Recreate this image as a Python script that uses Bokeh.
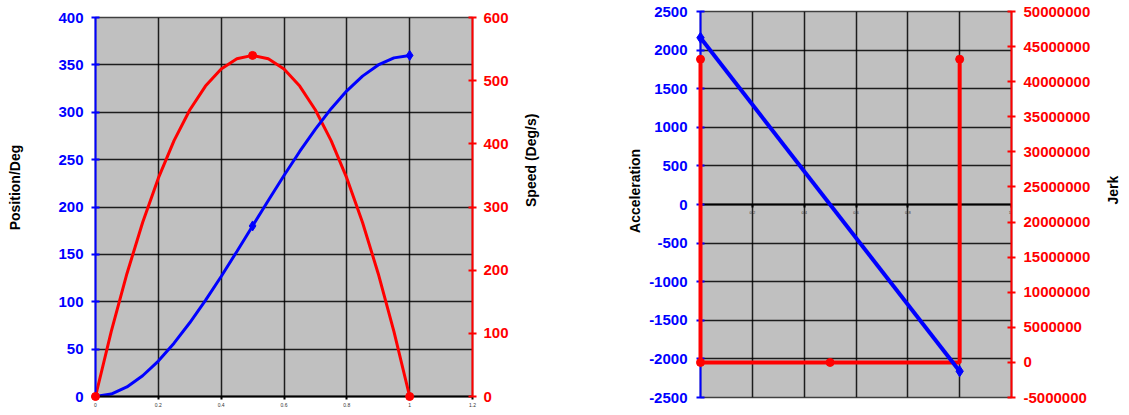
import math
from bokeh.plotting import figure
from bokeh.models import Range1d, LinearAxis, FixedTicker
from bokeh.layouts import row, column
from bokeh.embed import file_html
from bokeh.resources import INLINE

# ---------------- data ----------------
time_s = [0.0, 0.05, 0.1, 0.15, 0.2, 0.25, 0.3, 0.35, 0.4, 0.45, 0.5,
          0.55, 0.6, 0.65, 0.7, 0.75, 0.8, 0.85, 0.9, 0.95, 1.0]
position_deg = [0, 2.6, 10.1, 21.9, 37.4, 56.3, 77.8, 101.4, 126.7, 153.1, 180,
                206.9, 233.3, 258.6, 282.2, 303.8, 322.6, 338.1, 349.9, 357.4, 360]
speed_deg_s = [0, 102.6, 194.4, 275.4, 345.6, 405, 453.6, 491.4, 518.4, 534.6, 540,
               534.6, 518.4, 491.4, 453.6, 405, 345.6, 275.4, 194.4, 102.6, 0]
marker_idx = [0, 10, 20]

accel_t = [0.0, 1.0]
acceleration = [2160, -2160]

jerk_t = [0.0, 0.0, 0.5, 1.0, 1.0]
jerk = [43200000, -4320, -4320, -4320, 43200000]
jerk_marker_idx = [0, 1, 2, 4]

x_ticks = [0, 0.2, 0.4, 0.6, 0.8, 1.0, 1.2]
x_tick_labels = ["0", "0.2", "0.4", "0.6", "0.8", "1", "1.2"]
position_ticks = [0, 50, 100, 150, 200, 250, 300, 350, 400]
speed_ticks = [0, 100, 200, 300, 400, 500, 600]
accel_ticks = [-2500, -2000, -1500, -1000, -500, 0, 500, 1000, 1500, 2000, 2500]
jerk_ticks = [-5000000, 0, 5000000, 10000000, 15000000, 20000000, 25000000,
              30000000, 35000000, 40000000, 45000000, 50000000]

BLUE = "#0000FF"
RED = "#FF0000"
FONT = "Liberation Sans"
GRID_BG = "#C0C0C0"
NB = "\u00a0"


def style_value_axis(ax, ticks, color, label, label_standoff, tick_standoff):
    ax.ticker = FixedTicker(ticks=ticks)
    ax.major_label_overrides = {t: str(t) for t in ticks}
    ax.axis_line_color = color
    ax.axis_line_width = 2
    ax.major_tick_line_color = color
    ax.major_tick_line_width = 2
    ax.major_tick_in = 4
    ax.major_tick_out = 4
    ax.minor_tick_line_color = None
    ax.major_label_text_color = color
    ax.major_label_text_font = FONT
    ax.major_label_text_font_style = "bold"
    ax.major_label_text_font_size = "15px"
    ax.major_label_standoff = tick_standoff
    ax.axis_label = label
    ax.axis_label_text_font = FONT
    ax.axis_label_text_font_style = "bold"
    ax.axis_label_text_font_size = "14px"
    ax.axis_label_text_color = "black"
    ax.axis_label_standoff = label_standoff


def style_x_axis(ax, size):
    ax.ticker = FixedTicker(ticks=x_ticks)
    ax.major_label_overrides = {v: s for v, s in zip(x_ticks, x_tick_labels)}
    ax.axis_line_color = "black"
    ax.axis_line_width = 2
    ax.major_tick_line_color = "black"
    ax.major_tick_line_width = 2
    ax.major_tick_in = 0
    ax.major_tick_out = 3
    ax.minor_tick_line_color = None
    ax.major_label_text_font = FONT
    ax.major_label_text_font_size = size
    ax.major_label_text_color = "#333333"
    ax.major_label_standoff = 3


def style_grid(p, yticks):
    p.xgrid.ticker = FixedTicker(ticks=x_ticks)
    p.ygrid.ticker = FixedTicker(ticks=yticks)
    for g in (p.xgrid[0], p.ygrid[0]):
        g.grid_line_color = "black"
        g.grid_line_width = 1.5
        g.grid_line_alpha = 0.85


# ---------------- left chart ----------------
p1 = figure(frame_width=377, frame_height=379,
            x_range=Range1d(0, 1.2), y_range=Range1d(0, 400),
            output_backend="svg", toolbar_location=None,
            min_border_left=95, min_border_right=148,
            min_border_top=17, min_border_bottom=12,
            background_fill_color=GRID_BG, border_fill_color="white",
            outline_line_color="#404040", outline_line_width=1.5)

style_value_axis(p1.yaxis[0], position_ticks, BLUE, NB * 10 + "Position/Deg", 32, 8)
style_x_axis(p1.xaxis[0], "5px")

p1.extra_y_ranges = {"speed": Range1d(0, 600)}
ax_speed = LinearAxis(y_range_name="speed")
style_value_axis(ax_speed, speed_ticks, RED, "Speed (Deg/s)", 19, 7)
ax_speed.axis_label_orientation = math.pi / 2
p1.add_layout(ax_speed, "right")
style_grid(p1, position_ticks)

p1.line(time_s, speed_deg_s, color=RED, line_width=3, y_range_name="speed")
p1.line(time_s, position_deg, color=BLUE, line_width=3)
p1.scatter([time_s[i] for i in marker_idx], [speed_deg_s[i] for i in marker_idx],
           marker="circle", size=8, color=RED, y_range_name="speed", level="overlay")
p1.scatter([time_s[i] for i in marker_idx[1:]], [position_deg[i] for i in marker_idx[1:]],
           marker="diamond", size=10, color=BLUE)

# ---------------- right chart ----------------
p2 = figure(frame_width=311, frame_height=386,
            x_range=Range1d(0, 1.2), y_range=Range1d(-2500, 2500),
            output_backend="svg", toolbar_location=None,
            min_border_left=80, min_border_right=116,
            min_border_top=11, min_border_bottom=10,
            background_fill_color=GRID_BG, border_fill_color="white",
            outline_line_color="#404040", outline_line_width=1.5)

style_value_axis(p2.yaxis[0], accel_ticks, BLUE, NB * 7 + "Acceleration", 3, 9)
style_x_axis(p2.xaxis[0], "4px")
p2.xaxis[0].fixed_location = 0

p2.extra_y_ranges = {"jerk": Range1d(-5000000, 50000000)}
ax_jerk = LinearAxis(y_range_name="jerk")
style_value_axis(ax_jerk, jerk_ticks, RED, "Jerk", 20, 8)
ax_jerk.axis_label_orientation = math.pi / 2
p2.add_layout(ax_jerk, "right")
style_grid(p2, accel_ticks)

p2.line(jerk_t, jerk, color=RED, line_width=4, y_range_name="jerk", level="overlay")
p2.scatter([jerk_t[i] for i in jerk_marker_idx], [jerk[i] for i in jerk_marker_idx],
           marker="circle", size=8, color=RED, y_range_name="jerk", level="overlay")
p2.line(accel_t, acceleration, color=BLUE, line_width=4, level="overlay")
p2.scatter(accel_t, acceleration, marker="diamond", size=11, color=BLUE, level="overlay")

layout = row(column(p1), column(p2), spacing=0)
open("out.html", "w").write(file_html(layout, INLINE))
